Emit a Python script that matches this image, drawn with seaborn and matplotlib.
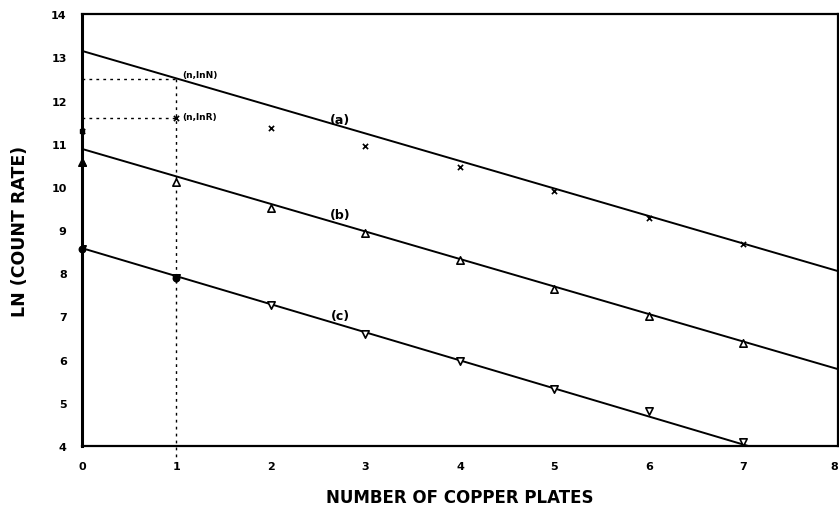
import matplotlib
matplotlib.use("Agg")
import matplotlib.pyplot as plt
import seaborn as sns
import pandas as pd

# ---- data ----
plates = [0, 1, 2, 3, 4, 5, 6, 7]
series_a = [11.30, 11.60, 11.37, 10.95, 10.47, 9.90, 9.27, 8.67]
series_b = [10.58, 10.12, 9.52, 8.94, 8.30, 7.63, 7.00, 6.38]
series_c = [8.57, 7.90, 7.26, 6.59, 5.96, 5.32, 4.81, 4.09]

fit_a_x = [0, 8]
fit_a_y = [13.15, 8.05]
fit_b_x = [0, 8]
fit_b_y = [10.88, 5.78]
fit_c_x = [0.05, 7.05]
fit_c_y = [8.55, 4.0]

lnN = 12.5
lnR = 11.6
n_point = 1

xticks = [0, 1, 2, 3, 4, 5, 6, 7, 8]
yticks = [4, 5, 6, 7, 8, 9, 10, 11, 12, 13, 14]

sns.set_style("white")
plt.rcParams['font.family'] = ['DejaVu Sans']
plt.rcParams['text.color'] = 'black'
plt.rcParams['axes.labelcolor'] = 'black'

fig = plt.figure(figsize=(8.39, 5.06), dpi=100)
ax = fig.add_axes([0.0977, 0.1166, 0.9011, 0.8534])

# fitted lines
for fx, fy in [(fit_a_x, fit_a_y), (fit_b_x, fit_b_y), (fit_c_x, fit_c_y)]:
    sns.lineplot(x=fx, y=fy, ax=ax, color="black", lw=1.4)

df = pd.DataFrame({"x": plates, "a": series_a, "b": series_b, "c": series_c})
sns.scatterplot(data=df, x="x", y="a", ax=ax, marker="x", color="black", s=14, linewidth=1.2, zorder=5)
sns.scatterplot(data=df, x="x", y="b", ax=ax, marker="^", facecolor="white", edgecolor="black", s=28, linewidth=1.2, zorder=5)
sns.scatterplot(data=df, x="x", y="c", ax=ax, marker="v", facecolor="white", edgecolor="black", s=28, linewidth=1.2, zorder=5)
# filled points at n=0 (and c at n=1)
ax.scatter([plates[0]], [series_b[0]], marker="^", color="black", s=30, zorder=6, clip_on=False)
ax.scatter([plates[0], plates[1]], [series_c[0], series_c[1]], marker="o", color="black", s=22, zorder=6, clip_on=False)
ax.scatter([plates[0]], [series_a[0]], marker="s", color="black", s=10, zorder=6, clip_on=False)

# dotted construction lines
ax.plot([0, n_point], [lnN, lnN], ls=(0, (2, 3)), color="black", lw=1)
ax.plot([0, n_point], [lnR, lnR], ls=(0, (2, 3)), color="black", lw=1)
ax.plot([n_point, n_point], [lnN, 3.65], ls=(0, (2, 3)), color="black", lw=1, clip_on=False)

ax.text(1.06, 12.6, "(n,lnN)", fontsize=6.5, fontweight="bold", va="center", ha="left")
ax.text(1.06, 11.62, "(n,lnR)", fontsize=6.5, fontweight="bold", va="center", ha="left")
ax.text(2.73, 11.55, "(a)", fontsize=9, fontweight="bold", ha="center", va="center")
ax.text(2.73, 9.36, "(b)", fontsize=9, fontweight="bold", ha="center", va="center")
ax.text(2.73, 7.02, "(c)", fontsize=9, fontweight="bold", ha="center", va="center")

ax.set_xlim(0, 8)
ax.set_ylim(4, 14)
ax.set_xticks(xticks)
ax.set_yticks(yticks)
ax.set_xticklabels([str(t) for t in xticks], fontsize=8, fontweight="bold")
ax.set_yticklabels([str(t) for t in yticks], fontsize=8, fontweight="bold")
ax.get_xticklabels()[-1].set_ha("right")
ax.tick_params(axis="both", direction="out", length=5, width=1.2, colors="black", pad=6)
for side in ["left", "right", "top", "bottom"]:
    ax.spines[side].set_visible(True)
    ax.spines[side].set_color("black")
    ax.spines[side].set_linewidth(1.6)
ax.spines["left"].set_linewidth(2.2)

ax.set_xlabel("NUMBER OF COPPER PLATES", fontsize=12, fontweight="bold", labelpad=12)
ax.set_ylabel("LN (COUNT RATE)", fontsize=12.5, fontweight="bold", labelpad=16)

fig.savefig("out.png", dpi=100)
